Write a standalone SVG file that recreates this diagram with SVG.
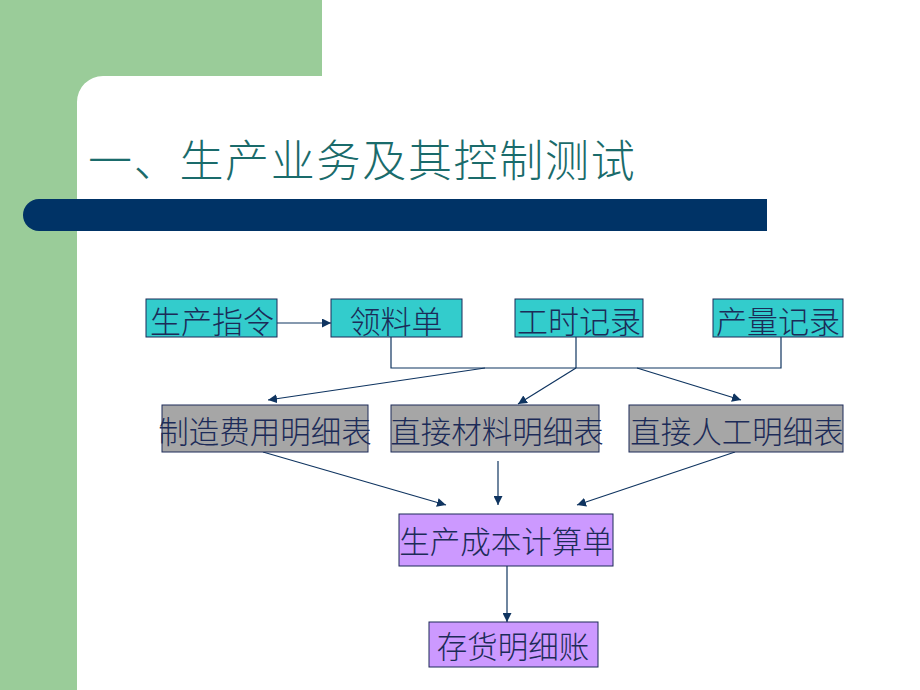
<svg xmlns="http://www.w3.org/2000/svg" width="920" height="690" viewBox="0 0 920 690">
<defs>
<style>
.t{font-family:"Noto Sans CJK SC","Noto Sans CJK JP",sans-serif;font-weight:300;fill:#1c2b58;text-anchor:middle;dominant-baseline:central}
.r1{font-size:31px}
.r2{font-size:30.5px}
.cyan{fill:#33CCCC;stroke:#1c2b58;stroke-width:1}
.gray{fill:#A6A6A6;stroke:#1c2b58;stroke-width:1}
.lav{fill:#CC99FF;stroke:#1c2b58;stroke-width:1}
.ln{stroke:#0f3460;stroke-width:1.2;fill:none}
.ar{stroke:#0f3460;stroke-width:1.2;fill:none;marker-end:url(#ah)}
</style>
<marker id="ah" viewBox="0 0 10 10" refX="10" refY="5" markerWidth="9" markerHeight="9" markerUnits="userSpaceOnUse" orient="auto">
<path d="M0,0 L10,5 L0,10 Z" fill="#0f3460"/>
</marker>
</defs>
<rect x="0" y="0" width="920" height="690" fill="#ffffff"/>
<g id="background">
<path d="M0,0 H322 V76 H103 A26,26 0 0 0 77,102 V690 H0 Z" fill="#9ACC99"/>
<path d="M39,199 H767 V231 H39 A16,16 0 0 1 39,199 Z" fill="#003366"/>
</g>
<g id="title">
<text x="88" y="177" font-family="'Noto Sans CJK SC',sans-serif" font-weight="300" font-size="44" letter-spacing="1.7" fill="#1a6b6b">一、生产业务及其控制测试</text>
</g>
<g id="connectors">
<line class="ar" x1="277" y1="323" x2="331" y2="323"/>
<polyline class="ln" points="391,337 391,368 781,368 781,337"/>
<line class="ln" x1="576" y1="337" x2="576" y2="368"/>
<line class="ar" x1="485" y1="368" x2="268" y2="400"/>
<line class="ar" x1="576" y1="368" x2="518" y2="404"/>
<line class="ar" x1="637" y1="368" x2="741" y2="400"/>
<line class="ar" x1="263" y1="452" x2="446" y2="505"/>
<line class="ar" x1="498" y1="461" x2="498" y2="505"/>
<line class="ar" x1="735" y1="452" x2="577" y2="505"/>
<line class="ar" x1="507" y1="566" x2="507" y2="622"/>
</g>
<g id="n1"><rect class="cyan" x="146" y="299" width="131" height="38"/><text class="t r1" x="212" y="319">生产指令</text></g>
<g id="n2"><rect class="cyan" x="331" y="299" width="131" height="38"/><text class="t r1" x="396" y="319">领料单</text></g>
<g id="n3"><rect class="cyan" x="515" y="299" width="128" height="38"/><text class="t r1" x="579" y="319">工时记录</text></g>
<g id="n4"><rect class="cyan" x="713" y="299" width="130" height="38"/><text class="t r1" x="778" y="319">产量记录</text></g>
<g id="n5"><rect class="gray" x="162" y="405" width="206" height="47"/><text class="t r2" x="265" y="430">制造费用明细表</text></g>
<g id="n6"><rect class="gray" x="391" y="405" width="208" height="47"/><text class="t r2" x="497" y="430">直接材料明细表</text></g>
<g id="n7"><rect class="gray" x="629" y="405" width="214" height="47"/><text class="t r2" x="737" y="430">直接人工明细表</text></g>
<g id="n8"><rect class="lav" x="399" y="514" width="214" height="52"/><text class="t r2" x="506" y="540">生产成本计算单</text></g>
<g id="n9"><rect class="lav" x="429" y="622" width="169" height="45"/><text class="t r2" x="513" y="645">存货明细账</text></g>
</svg>
